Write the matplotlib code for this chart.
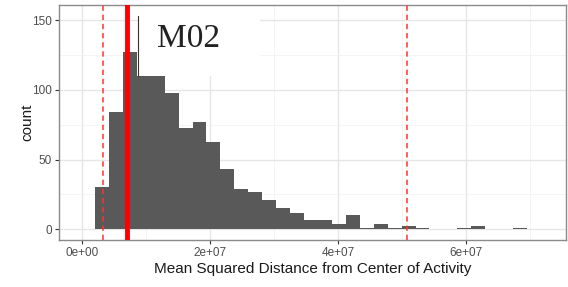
import numpy as np
import matplotlib
matplotlib.use('Agg')
import matplotlib.pyplot as plt
from matplotlib.ticker import FixedLocator

# histogram (31 bins)
bin_start = 2.08e6
bin_width = 2.176e6
counts = [30, 84, 127, 110, 110, 98, 73, 77, 63, 43, 29, 27, 21, 15, 12, 7,
          7, 4, 10, 1, 4, 1, 2, 1, 0, 0, 1, 2, 0, 0, 1]

# reference lines
lower_cut = 3.28e6
upper_cut = 50.74e6
subject_value = 7.03e6
label = 'M02'

x_ticks = [0, 2e7, 4e7, 6e7]
x_ticklabels = ['0e+00', '2e+07', '4e+07', '6e+07']
y_ticks = [0, 50, 100, 150]

plt.rcParams['font.family'] = ['Liberation Sans', 'DejaVu Sans']

fig = plt.figure(figsize=(5.68, 2.87), dpi=100)
ax = fig.add_axes([0.1039, 0.1638, 0.8920, 0.8188])

edges = bin_start + bin_width * np.arange(len(counts))
ax.bar(edges, counts, width=bin_width, align='edge', color='#595959',
       linewidth=0, zorder=3)

ax.set_xlim(-3.54e6, 75.57e6)
ax.set_ylim(-7.7, 161)

# white label box pasted over the grid, with a thin pointer line
ax.fill_between([8.84e6, 27.84e6], 110, 161, color='white', zorder=2, linewidth=0)
ax.plot([8.84e6, 8.84e6], [110, 153], color='#333333', lw=0.8, zorder=4)
ax.text(16.75e6, 130.9, label, family=['Liberation Serif', 'DejaVu Serif'],
        fontsize=24, color='#222222', ha='center', va='baseline', zorder=5)

ax.axvline(lower_cut, color='#ff3333', lw=1.1, ls=(0, (3.5, 2.5)), zorder=4)
ax.axvline(upper_cut, color='#ff3333', lw=1.1, ls=(0, (3.5, 2.5)), zorder=4)
ax.axvline(subject_value, color='#ff0000', lw=3.5, zorder=4)

ax.xaxis.set_major_locator(FixedLocator(x_ticks))
ax.xaxis.set_minor_locator(FixedLocator([1e7, 3e7, 5e7, 7e7]))
ax.set_xticklabels(x_ticklabels)
ax.yaxis.set_major_locator(FixedLocator(y_ticks))
ax.yaxis.set_minor_locator(FixedLocator([25, 75, 125]))

ax.grid(which='major', color='#e6e6e6', lw=1.0, zorder=0)
ax.grid(which='minor', color='#f2f2f2', lw=0.6, zorder=0)
ax.set_axisbelow(True)

for s in ax.spines.values():
    s.set_color('#8a8a8a')
    s.set_linewidth(1.0)

ax.tick_params(which='major', length=3, width=0.8, color='#333333',
               labelsize=8.5, labelcolor='#4d4d4d', pad=2)
ax.tick_params(which='minor', length=0)

ax.set_xlabel('Mean Squared Distance from Center of Activity', fontsize=11,
              color='#1a1a1a', labelpad=2)
ax.set_ylabel('count', fontsize=11, color='#1a1a1a')
ax.yaxis.set_label_coords(-0.049, 0.5)

fig.savefig('out.png', dpi=100)
